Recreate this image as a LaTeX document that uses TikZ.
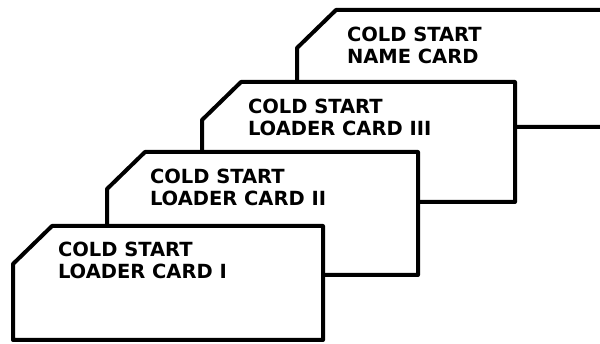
\documentclass[tikz,border=0pt]{standalone}
\usepackage{fontspec}
\setmainfont{DejaVu Sans}
\usetikzlibrary{positioning}

\begin{document}
\begin{tikzpicture}[x=1pt, y=-1pt, line width=4pt, line join=round,
    card/.style={draw=black, fill=white},
    lbl/.style={anchor=north west, inner sep=0pt, align=left,
      font=\fontsize{19.5}{22}\selectfont\bfseries}]
  \useasboundingbox (0,0) rectangle (600,344);
  \clip (0,0) rectangle (600,344);
  % Name card (back)
  \filldraw[card] (297,127) -- (297,48) -- (336,10) -- (640,10) -- (640,127) -- cycle;
  \node[lbl] (namecard) at (345,25) {COLD START\\NAME CARD};
  % Loader card III
  \filldraw[card] (202,202) -- (202,120) -- (241,82) -- (515,82) -- (515,202) -- cycle;
  \node[lbl] (loaderthree) at (246,97) {COLD START\\LOADER CARD III};
  % Loader card II
  \filldraw[card] (107,275) -- (107,189) -- (145,152) -- (418,152) -- (418,275) -- cycle;
  \node[lbl] (loadertwo) at (148,167) {COLD START\\LOADER CARD II};
  % Loader card I (front)
  \filldraw[card] (13,340) -- (13,264) -- (52,226) -- (323,226) -- (323,340) -- cycle;
  \node[lbl] (loaderone) at (56,240) {COLD START\\LOADER CARD I};
\end{tikzpicture}
\end{document}
